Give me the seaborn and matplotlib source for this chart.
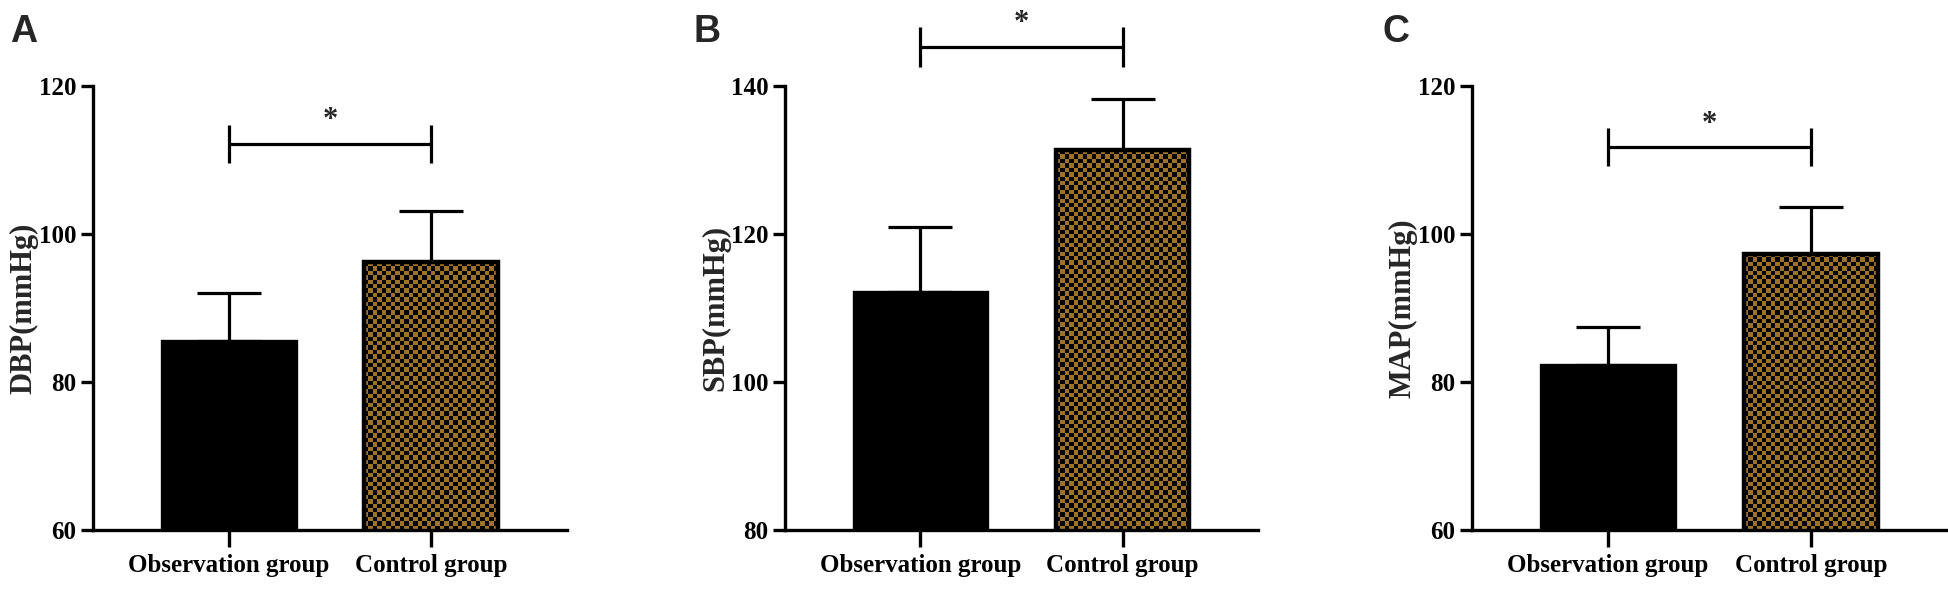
import numpy as np
import matplotlib
matplotlib.use("Agg")
import matplotlib.pyplot as plt
from matplotlib.colors import ListedColormap
import seaborn as sns

# ---------------- data ----------------
categories = ["Observation group", "Control group"]

dbp_mean = [85.5, 96.2]
dbp_err = [6.5, 6.9]
sbp_mean = [112.2, 131.3]
sbp_err = [8.7, 6.9]
map_mean = [82.3, 97.3]
map_err = [5.1, 6.4]

ylabels = ["DBP(mmHg)", "SBP(mmHg)", "MAP(mmHg)"]
panel_letters = ["A", "B", "C"]
y_ranges = [(60, 120), (80, 140), (60, 120)]
y_ticks = [[60, 80, 100, 120], [80, 100, 120, 140], [60, 80, 100, 120]]
sig_y = [112.2, 145.3, 111.8]
sig_half = [2.55, 2.7, 2.55]
star_y = [115.4, 148.5, 114.8]
sig_text = "*"

means = [dbp_mean, sbp_mean, map_mean]
errs = [dbp_err, sbp_err, map_err]

# ---------------- style ----------------
sns.set_theme(style="ticks")
plt.rcParams["font.family"] = ["Liberation Serif", "DejaVu Serif"]

W, H = 1948, 595
fig = plt.figure(figsize=(W / 100, H / 100), dpi=100)

tan = "#9f722a"
lw_axis = 2.4
lw_err = 2.3

# axes positions in pixels: (left, right)
ax_px = [(93, 567), (785, 1258), (1472, 1947)]
top_px, bot_px = 86, 530
letter_px = [(10, 14), (693, 14), (1382, 14)]

for i in range(3):
    l, r = ax_px[i]
    ax = fig.add_axes([l / W, (H - bot_px) / H, (r - l) / W, (bot_px - top_px) / H])
    df_vals = means[i]
    sns.barplot(x=categories, y=df_vals, hue=categories,
                palette=["black", tan], width=0.66, errorbar=None,
                legend=False, ax=ax, linewidth=0, saturation=1)
    ax.set_xlim(-0.67, 1.67)
    ax.set_ylim(*y_ranges[i])
    ax.set_yticks(y_ticks[i])

    patches = ax.patches
    # observation bar: solid black with edge
    patches[0].set_edgecolor("black")
    patches[0].set_linewidth(lw_axis)
    # control bar: checkerboard fill clipped to bar
    p = patches[1]
    p.set_facecolor("none")
    p.set_edgecolor("black")
    p.set_linewidth(3.2)
    p.set_zorder(2)
    x0, w = p.get_x(), p.get_width()
    y1 = p.get_y() + p.get_height()
    y0 = y_ranges[i][0]
    ax_w_px = r - l
    ax_h_px = bot_px - top_px
    bar_w_px = w / (1.67 + 0.67) * ax_w_px
    bar_h_px = (y1 - y0) / (y_ranges[i][1] - y_ranges[i][0]) * ax_h_px
    sq = 4.4
    nx = int(round(bar_w_px / sq))
    ny = int(round(bar_h_px / sq))
    yy, xx = np.mgrid[0:ny, 0:nx]
    checker = ((xx + yy) % 2).astype(float)
    cmap = ListedColormap(["black", tan])
    im = ax.imshow(checker, extent=[x0, x0 + w, y0, y1], origin="lower",
                   aspect="auto", interpolation="nearest", cmap=cmap,
                   zorder=1.5, vmin=0, vmax=1)
    im.set_clip_path(p)
    ax.set_xlim(-0.67, 1.67)
    ax.set_ylim(*y_ranges[i])

    # error bars (upper only)
    ax.errorbar([0, 1], df_vals, yerr=[[0, 0], errs[i]], fmt="none",
                ecolor="black", elinewidth=lw_err, capsize=23, capthick=lw_err,
                zorder=1.2)

    # significance bracket
    sy, sh = sig_y[i], sig_half[i]
    ax.plot([0, 1], [sy, sy], color="black", lw=lw_err, clip_on=False,
            solid_capstyle="butt")
    for xx_ in (0, 1):
        ax.plot([xx_, xx_], [sy - sh, sy + sh], color="black", lw=lw_err,
                clip_on=False, solid_capstyle="butt")
    ax.text(0.5, star_y[i], sig_text, ha="center", va="center",
            fontsize=22, fontweight="bold", clip_on=False)

    # spines & ticks
    sns.despine(ax=ax)
    for s in ("left", "bottom"):
        ax.spines[s].set_linewidth(lw_axis)
        ax.spines[s].set_color("black")
        ax.spines[s].set_zorder(3)
    ax.tick_params(axis="y", direction="out", length=9, width=lw_axis,
                   pad=3, labelsize=18, colors="black")
    ax.tick_params(axis="x", direction="out", length=12, width=lw_axis,
                   pad=5, labelsize=18, colors="black")
    for t in ax.get_xticklabels() + ax.get_yticklabels():
        t.set_fontweight("bold")
    ax.set_ylabel(ylabels[i], fontsize=22, fontweight="bold", labelpad=0)
    ax.set_xlabel("")

    lx, ly = letter_px[i]
    fig.text(lx / W, 1 - ly / H, panel_letters[i], ha="left", va="top",
             fontsize=27, fontweight="bold",
             family=["Liberation Sans", "DejaVu Sans"])

fig.savefig("out.png", dpi=100, facecolor="white")
